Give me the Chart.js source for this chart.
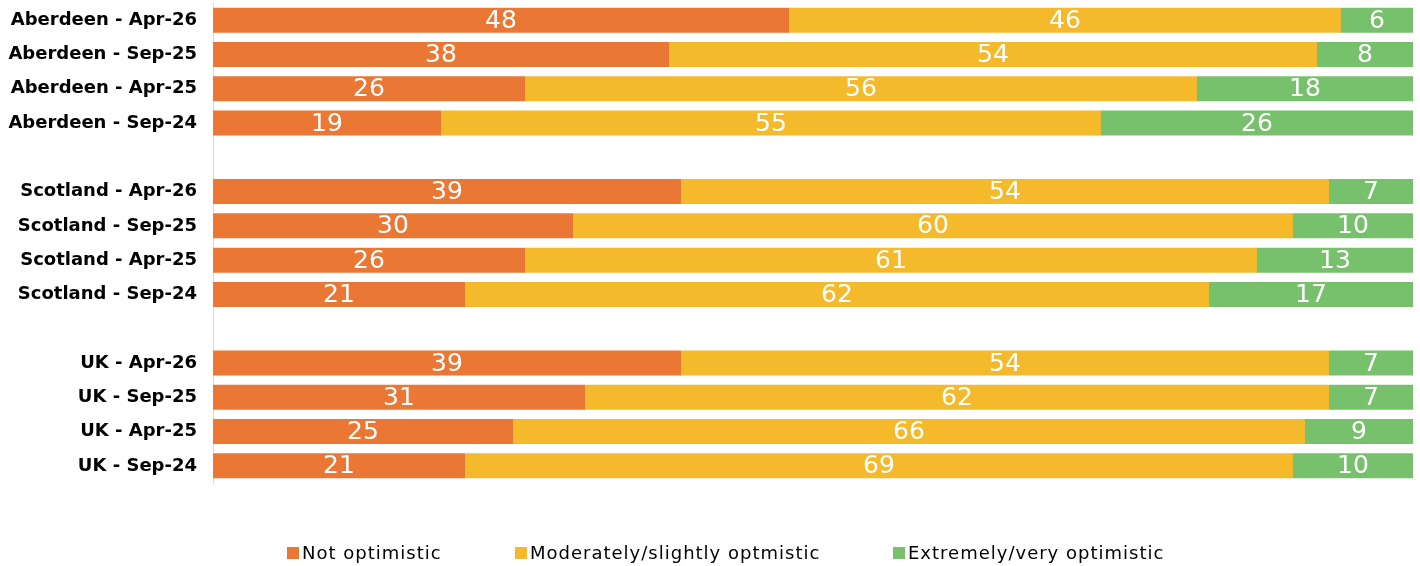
<!DOCTYPE html>
<html>
<head>
<meta charset="utf-8">
<script src="https://cdn.jsdelivr.net/npm/chart.js@4"></script>
<style>
  html, body { margin: 0; padding: 0; background: #fff; }
  #wrap { width: 1420px; height: 566px; }
</style>
</head>
<body>
<div id="wrap"><canvas id="chart" width="1420" height="566"></canvas></div>
<script>
// categorias (linhas vazias separam os grupos)
const categorias = [
  'Aberdeen - Apr-26', 'Aberdeen - Sep-25', 'Aberdeen - Apr-25', 'Aberdeen - Sep-24', '',
  'Scotland - Apr-26', 'Scotland - Sep-25', 'Scotland - Apr-25', 'Scotland - Sep-24', '',
  'UK - Apr-26', 'UK - Sep-25', 'UK - Apr-25', 'UK - Sep-24'
];
const naoOtimista   = [48, 38, 26, 19, null, 39, 30, 26, 21, null, 39, 31, 25, 21];
const moderado      = [46, 54, 56, 55, null, 54, 60, 61, 62, null, 54, 62, 66, 69];
const muitoOtimista = [6, 8, 18, 26, null, 7, 10, 13, 17, null, 7, 7, 9, 10];
const nomesSeries   = ['Not optimistic', 'Moderately/slightly optmistic', 'Extremely/very optimistic'];
const cores         = ['#EA7733', '#F4BA2C', '#78C16C'];

const fonte = "'DejaVu Sans', sans-serif";

// Rótulos dentro das barras
const rotulos = {
  id: 'rotulos',
  afterDatasetsDraw(chart) {
    const ctx = chart.ctx;
    ctx.save();
    ctx.fillStyle = '#fff';
    ctx.font = '400 25px ' + fonte;
    ctx.textAlign = 'center';
    ctx.textBaseline = 'middle';
    chart.data.datasets.forEach((ds, i) => {
      chart.getDatasetMeta(i).data.forEach((el, j) => {
        const v = ds.data[j];
        if (v == null) return;
        ctx.fillText(String(v), (el.x + el.base) / 2, el.y + 1);
      });
    });
    ctx.restore();
  }
};

// Legenda desenhada à mão (espaçamento como no original)
const legenda = {
  id: 'legenda',
  afterDraw(chart) {
    const ctx = chart.ctx;
    const posX = [287, 515, 893];
    const y = 553;
    ctx.save();
    ctx.font = '400 18px ' + fonte;
    ctx.letterSpacing = '1px';
    ctx.textBaseline = 'middle';
    chart.data.datasets.forEach((ds, i) => {
      ctx.fillStyle = ds.backgroundColor;
      ctx.fillRect(posX[i], y - 6, 12, 12);
      ctx.fillStyle = '#000';
      ctx.fillText(ds.label, posX[i] + 15, y + 1);
    });
    ctx.restore();
  }
};

new Chart(document.getElementById('chart').getContext('2d'), {
  type: 'bar',
  data: {
    labels: categorias,
    datasets: [naoOtimista, moderado, muitoOtimista].map((d, i) => ({
      label: nomesSeries[i],
      data: d,
      backgroundColor: cores[i],
      borderWidth: 0,
      categoryPercentage: 1,
      barPercentage: 0.73
    }))
  },
  options: {
    indexAxis: 'y',
    responsive: false,
    animation: false,
    layout: { padding: { top: 3, right: 7, bottom: 83, left: 0 } },
    plugins: {
      legend: { display: false },
      tooltip: { enabled: false }
    },
    scales: {
      x: {
        stacked: true,
        min: 0,
        max: 100,
        display: false
      },
      y: {
        stacked: true,
        grid: { display: false, drawTicks: false },
        border: { display: true, color: '#D9D9D9', width: 1 },
        ticks: {
          color: '#000',
          padding: 16,
          font: { family: fonte, size: 18, weight: '600' }
        },
        afterFit(s) {
          s.width = 213;
          s.paddingTop = 0;
          s.paddingBottom = 0;
        }
      }
    }
  },
  plugins: [rotulos, legenda]
});
</script>
</body>
</html>
